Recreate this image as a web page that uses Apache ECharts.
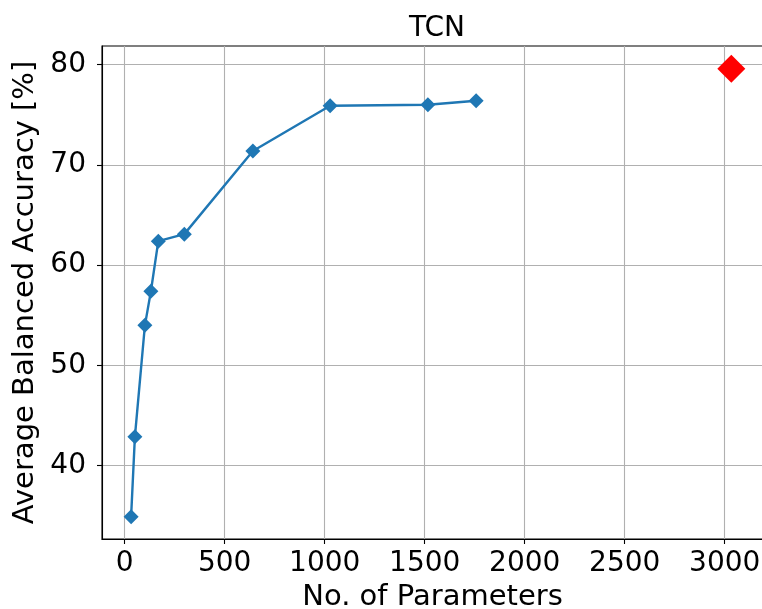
<!DOCTYPE html>
<html>
<head>
<meta charset="utf-8">
<script src="https://cdn.jsdelivr.net/npm/echarts@6/dist/echarts.min.js"></script>
<style>
html,body{margin:0;padding:0;background:#fff;}
#chart{width:762px;height:609px;}
</style>
</head>
<body>
<div id="chart"></div>
<script>
const chartTitle = "TCN";
const xAxisName = "No. of Parameters";
const yAxisName = "Average Balanced Accuracy [%]";
const paramsCounts = [32, 51, 101, 131, 168, 298, 641, 1027, 1516, 1757];
const accuracies = [34.9, 42.9, 54.0, 57.4, 62.4, 63.1, 71.4, 75.9, 76.0, 76.4];
const bestParams = [3033];
const bestAccuracy = [79.6];
const xTicks = [0, 500, 1000, 1500, 2000, 2500, 3000];
const yTicks = [40, 50, 60, 70, 80];

const FONT = "DejaVu Sans";
const chart = echarts.init(document.getElementById('chart'), null, {renderer: 'canvas'});
const mainData = paramsCounts.map((x, i) => [x, accuracies[i]]);
const bestData = bestParams.map((x, i) => [x, bestAccuracy[i]]);

chart.setOption({
  animation: false,
  backgroundColor: '#ffffff',
  title: {
    text: chartTitle,
    left: 432,
    top: 10,
    textAlign: 'center',
    textStyle: {fontFamily: FONT, fontSize: 28, fontWeight: 'normal', color: '#000'}
  },
  grid: {
    left: 102, top: 46, right: -1, bottom: 70,
    outerBoundsMode: 'none',
    containLabel: false,
    show: true, borderColor: '#000', borderWidth: 1.1, backgroundColor: 'transparent'
  },
  xAxis: {
    type: 'value',
    min: -113.5, max: 3191.5,
    name: xAxisName,
    nameLocation: 'middle',
    nameGap: 43,
    nameTextStyle: {fontFamily: FONT, fontSize: 29, color: '#000'},
    axisLine: {show: true, onZero: false, lineStyle: {color: '#000', width: 1.1}},
    axisTick: {show: true, inside: false, length: 5, customValues: xTicks, lineStyle: {color: '#000', width: 1.1}},
    axisLabel: {show: true, customValues: xTicks, margin: 11, fontFamily: FONT, fontSize: 28, color: '#000',
      formatter: v => String(v)},
    splitLine: {show: true, lineStyle: {color: '#b0b0b0', width: 1.1}}
  },
  yAxis: {
    type: 'value',
    min: 32.69, max: 81.865,
    name: yAxisName,
    nameLocation: 'middle',
    nameGap: 62,
    nameTextStyle: {fontFamily: FONT, fontSize: 29, color: '#000'},
    axisLine: {show: true, onZero: false, lineStyle: {color: '#000', width: 1.1}},
    axisTick: {show: true, inside: false, length: 5, customValues: yTicks, lineStyle: {color: '#000', width: 1.1}},
    axisLabel: {show: true, customValues: yTicks, margin: 16, fontFamily: FONT, fontSize: 28, color: '#000',
      formatter: v => String(v)},
    splitLine: {show: true, lineStyle: {color: '#b0b0b0', width: 1.1}}
  },
  series: [
    {
      type: 'line',
      data: mainData,
      symbol: 'diamond',
      symbolSize: 15,
      showAllSymbol: true,
      lineStyle: {color: '#1f77b4', width: 2.4},
      itemStyle: {color: '#1f77b4', opacity: 1},
      z: 3
    },
    {
      type: 'scatter',
      data: bestData,
      symbol: 'diamond',
      symbolSize: 28,
      itemStyle: {color: '#ff0000', opacity: 1},
      z: 4
    }
  ]
});
</script>
</body>
</html>
